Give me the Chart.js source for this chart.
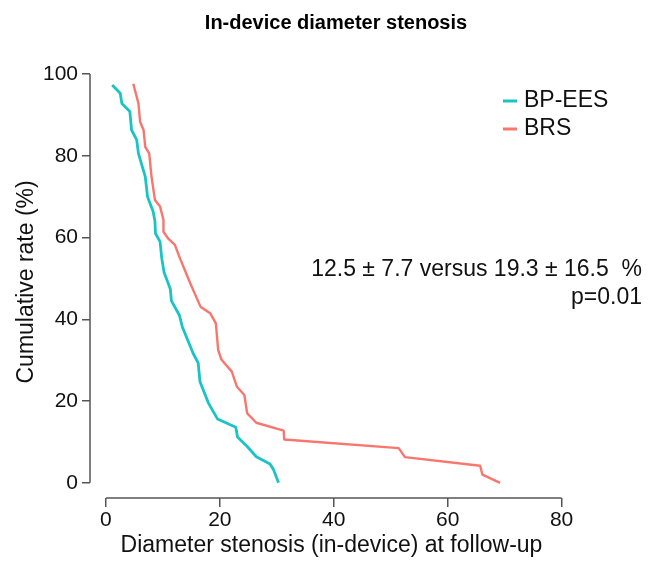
<!DOCTYPE html>
<html>
<head>
<meta charset="utf-8">
<script src="https://cdn.jsdelivr.net/npm/chart.js@4/dist/chart.umd.min.js"></script>
<style>
  body { margin: 0; background: #fff; }
  #wrap { width: 649px; height: 563px; }
</style>
</head>
<body>
<div id="wrap"><canvas id="chart" width="649" height="563"></canvas></div>
<script>
// values
const seriesNames = ['BP-EES', 'BRS'];
const besX = [1.1, 2.5, 2.8, 4.2, 4.5, 5.4, 5.7, 6.9, 7.3, 8.3, 8.6, 8.7, 9.5, 9.8, 10.2, 11.3, 11.5, 12.9, 13.4, 15.3, 16.2, 16.5, 18.0, 19.6, 22.8, 23.1, 24.8, 26.4, 28.8, 29.4, 30.3];
const besY = [97.3, 95.3, 92.8, 90.8, 86.3, 83.9, 80.6, 74.9, 70.0, 66.3, 64.0, 61.0, 59.0, 54.9, 51.5, 47.4, 44.5, 41.0, 38.2, 31.7, 29.3, 24.8, 19.5, 15.6, 13.6, 11.2, 8.9, 6.4, 4.6, 3.3, 0];
const brsX = [4.8, 5.7, 6.0, 6.6, 6.9, 7.6, 8.0, 8.6, 9.5, 10.1, 10.1, 10.9, 12.1, 13.0, 14.8, 16.6, 18.3, 19.3, 19.7, 20.3, 22.1, 23.0, 24.3, 24.8, 26.4, 31.2, 31.3, 51.4, 52.5, 65.7, 66.1, 69.2];
const brsY = [97.6, 92.8, 88.3, 86.3, 82.2, 80.6, 74.9, 69.2, 67.6, 64.3, 61.4, 59.8, 58.2, 54.9, 48.8, 43.1, 41.5, 39.0, 32.5, 30.1, 27.2, 23.5, 21.5, 17.0, 14.7, 12.8, 10.6, 8.5, 6.3, 4.2, 2.0, 0];
const xTicks = [0, 20, 40, 60, 80];
const yTicks = [0, 20, 40, 60, 80, 100];
const titleText = 'In-device diameter stenosis';
const statText = ['12.5 ± 7.7 versus 19.3 ± 16.5  %', 'p=0.01'];

const colors = ['#19c3c6', '#f8766d'];
const FONT = "'Liberation Sans', Arial, sans-serif";

function toPoints(xs, ys) {
  return xs.map((x, i) => ({ x: x, y: ys[i] }));
}

// axis lines only over the data range, like base R graphics
const extras = {
  id: 'extras',
  afterDraw(chart) {
    const ctx = chart.ctx;
    const xs = chart.scales.x, ys = chart.scales.y;
    const area = chart.chartArea;
    ctx.save();
    ctx.strokeStyle = '#555';
    ctx.lineWidth = 1.5;
    ctx.beginPath();
    ctx.moveTo(area.left, ys.getPixelForValue(yTicks[0]));
    ctx.lineTo(area.left, ys.getPixelForValue(yTicks[yTicks.length - 1]));
    ctx.moveTo(xs.getPixelForValue(xTicks[0]), area.bottom);
    ctx.lineTo(xs.getPixelForValue(xTicks[xTicks.length - 1]), area.bottom);
    ctx.stroke();

    // title
    ctx.fillStyle = '#000';
    ctx.font = 'bold 20px ' + FONT;
    ctx.textAlign = 'center';
    ctx.textBaseline = 'middle';
    ctx.fillText(titleText, 336, 23);

    // legend
    ctx.font = '23px ' + FONT;
    ctx.textAlign = 'left';
    chart.data.datasets.forEach((ds, i) => {
      const y = 101 + i * 28;
      ctx.strokeStyle = ds.borderColor;
      ctx.lineWidth = 3;
      ctx.beginPath();
      ctx.moveTo(503, y);
      ctx.lineTo(517, y);
      ctx.stroke();
      ctx.fillStyle = '#111';
      ctx.fillText(ds.label, 524, y);
    });

    // statistics
    ctx.textAlign = 'right';
    ctx.fillText(statText[0], 642, 270);
    ctx.fillText(statText[1], 642, 298);
    ctx.restore();
  }
};

new Chart(document.getElementById('chart'), {
  type: 'line',
  data: {
    datasets: [
      { label: seriesNames[0], data: toPoints(besX, besY), borderColor: colors[0], borderWidth: 2.8 },
      { label: seriesNames[1], data: toPoints(brsX, brsY), borderColor: colors[1], borderWidth: 2.4 }
    ]
  },
  options: {
    responsive: false,
    animation: false,
    layout: { padding: { left: 0, right: 76, top: 65.8, bottom: 0 } },
    elements: {
      point: { radius: 0 },
      line: { tension: 0, borderJoinStyle: 'round', fill: false }
    },
    scales: {
      x: {
        type: 'linear',
        min: -2.8,
        max: 82,
        afterBuildTicks: s => { s.ticks = xTicks.map(v => ({ value: v })); },
        afterFit: s => { s.height = 65; },
        border: { display: false },
        grid: { drawOnChartArea: false, drawTicks: true, tickLength: 9, color: '#555', lineWidth: 1.5 },
        ticks: { color: '#111', font: { family: FONT, size: 21 }, padding: 1, maxRotation: 0 },
        title: { display: true, text: 'Diameter stenosis (in-device) at follow-up', color: '#111', font: { family: FONT, size: 23 }, padding: { top: 0, bottom: 4 } }
      },
      y: {
        type: 'linear',
        min: -3.7,
        max: 102,
        afterBuildTicks: s => { s.ticks = yTicks.map(v => ({ value: v })); },
        afterFit: s => { s.width = 90; },
        border: { display: false },
        grid: { drawOnChartArea: false, drawTicks: true, tickLength: 8, color: '#555', lineWidth: 1.5 },
        ticks: { color: '#111', font: { family: FONT, size: 21 }, padding: 4 },
        title: { display: true, text: 'Cumulative rate (%)', color: '#111', font: { family: FONT, size: 23 }, padding: { top: 13, bottom: 0 } }
      }
    },
    plugins: {
      legend: { display: false },
      tooltip: { enabled: false },
      title: { display: false }
    }
  },
  plugins: [extras]
});
</script>
</body>
</html>
